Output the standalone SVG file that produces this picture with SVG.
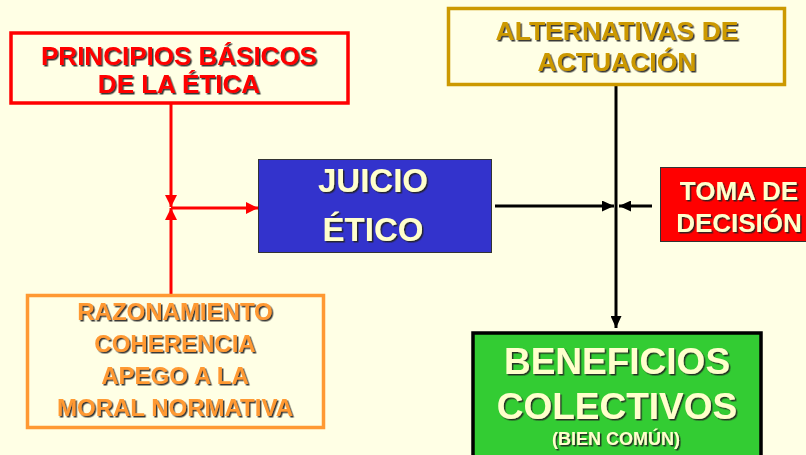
<svg xmlns="http://www.w3.org/2000/svg" width="806" height="455" viewBox="0 0 806 455">
<defs>
<filter id="sh" x="-10%" y="-20%" width="130%" height="150%">
<feDropShadow dx="1.5" dy="1.5" stdDeviation="0" flood-color="#222" flood-opacity="0.9"/>
</filter>
<marker id="ar" markerUnits="userSpaceOnUse" markerWidth="12" markerHeight="12" viewBox="0 0 12 12" refX="12" refY="6" orient="auto">
<path d="M0,0 L12,6 L0,12 Z" fill="#FF0000"/>
</marker>
<marker id="ak" markerUnits="userSpaceOnUse" markerWidth="12" markerHeight="11" viewBox="0 0 12 11" refX="12" refY="5.5" orient="auto">
<path d="M0,0 L12,5.5 L0,11 Z" fill="#000"/>
</marker>
</defs>
<style>
text{font-family:"Liberation Sans",Arial,sans-serif;font-weight:bold;text-anchor:middle;filter:url(#sh)}
.red{fill:#FF0000}
.gold{fill:#CC9900}
.org{fill:#FF9933}
.cream{fill:#FFFFCC}
.rl{stroke:#FF0000;stroke-width:3;fill:none}
.kl{stroke:#000;stroke-width:3;fill:none}
</style>
<rect width="806" height="455" fill="#FFFFE5"/>

<g id="connectors">
<line class="rl" x1="171" y1="103" x2="171" y2="207" marker-end="url(#ar)"/>
<line class="rl" x1="171" y1="295" x2="171" y2="208" marker-end="url(#ar)"/>
<line class="rl" x1="171" y1="208" x2="258" y2="208" marker-end="url(#ar)"/>
<line class="kl" x1="616" y1="85" x2="616" y2="328" marker-end="url(#ak)"/>
<line class="kl" x1="495" y1="206" x2="614" y2="206" marker-end="url(#ak)"/>
<line class="kl" x1="652" y1="206" x2="619" y2="206" marker-end="url(#ak)"/>
</g>

<g id="principios">
<rect x="11" y="33" width="337" height="70" fill="#FFFFE5" stroke="#FF0000" stroke-width="3.5"/>
<text class="red" x="179" y="65" font-size="26">PRINCIPIOS BÁSICOS</text>
<text class="red" x="179" y="93" font-size="26">DE LA ÉTICA</text>
</g>

<g id="alternativas">
<rect x="448.5" y="8.5" width="336" height="76" fill="#FFFFE5" stroke="#CC9900" stroke-width="3.5"/>
<text class="gold" x="617" y="40" font-size="26.5">ALTERNATIVAS DE</text>
<text class="gold" x="617" y="71" font-size="26.5">ACTUACIÓN</text>
</g>

<g id="juicio">
<rect x="258.5" y="159.5" width="233" height="93" fill="#3333CC" stroke="#333" stroke-width="1"/>
<text class="cream" x="373" y="192" font-size="33">JUICIO</text>
<text class="cream" x="373" y="241" font-size="33">ÉTICO</text>
</g>

<g id="decision">
<rect x="660.5" y="167.5" width="150" height="74" fill="#FF0000" stroke="#333" stroke-width="1"/>
<text class="cream" x="739" y="200" font-size="26">TOMA DE</text>
<text class="cream" x="739" y="232" font-size="26">DECISIÓN</text>
</g>

<g id="razonamiento">
<rect x="27.5" y="295.5" width="296" height="132" fill="#FFFFE5" stroke="#FF9933" stroke-width="3.5"/>
<text class="org" x="175" y="320" font-size="24">RAZONAMIENTO</text>
<text class="org" x="175" y="352" font-size="24">COHERENCIA</text>
<text class="org" x="175" y="384" font-size="24">APEGO A LA</text>
<text class="org" x="175" y="416" font-size="24">MORAL NORMATIVA</text>
</g>

<g id="beneficios">
<rect x="473" y="333" width="288" height="130" fill="#33CC33" stroke="#000" stroke-width="3.5"/>
<text class="cream" x="617" y="374" font-size="37">BENEFICIOS</text>
<text class="cream" x="617" y="419" font-size="37">COLECTIVOS</text>
<text class="cream" x="616" y="445" font-size="18">(BIEN COMÚN)</text>
</g>
</svg>
